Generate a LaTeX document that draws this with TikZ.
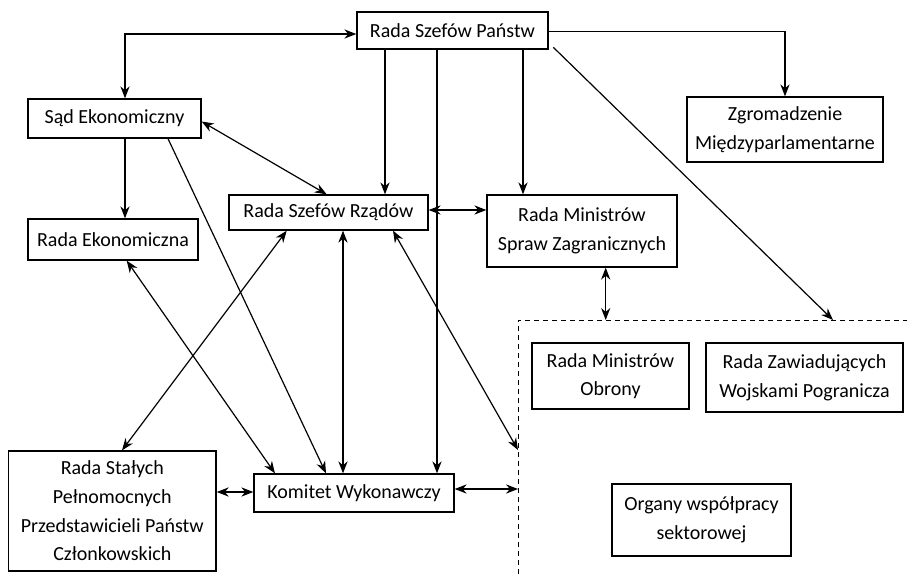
\documentclass[tikz,border=0pt]{standalone}
\usepackage{fontspec}
\setmainfont{Carlito}
\usetikzlibrary{arrows.meta}

\tikzset{
  box/.style={draw, line width=0.65pt, align=center, inner sep=0pt, font=\fontsize{10}{14.3}\selectfont},
  grpline/.style={line width=0.5pt, dash pattern=on 2.6pt off 1.9pt},
}

\begin{document}
\begin{tikzpicture}[x=0.5pt, y=-0.5pt, line width=0.6pt, >={Stealth[length=6pt,width=4.6pt]}]
\useasboundingbox (0,0) rectangle (907,574);

% organy
\node[box, minimum width=95.5pt, minimum height=18.5pt] (rsp) at (452.5,30.5) {Rada Szefów Państw};
\node[box, minimum width=86.5pt, minimum height=19.5pt] (se) at (114.5,118.5) {Sąd Ekonomiczny};
\node[box, minimum width=85pt, minimum height=20.5pt] (re) at (113,239.5) {Rada Ekonomiczna};
\node[box, minimum width=99.5pt, minimum height=17.5pt] (rsr) at (328.5,212.5) {Rada Szefów Rządów};
\node[box, minimum width=95pt, minimum height=36pt] (rmsz) at (582,231) {Rada Ministrów\\Spraw Zagranicznych};
\node[box, minimum width=98pt, minimum height=32.5pt] (zm) at (785,129.5) {Zgromadzenie\\Międzyparlamentarne};
\node[box, minimum width=103.75pt, minimum height=60pt] (rspp) at (112.3,511) {Rada Stałych\\Pełnomocnych\\Przedstawicieli Państw\\Członkowskich};
\node[box, minimum width=100pt, minimum height=19pt] (kw) at (354,493) {Komitet Wykonawczy};
\node[box, minimum width=78.5pt, minimum height=33pt] (rmo) at (610.5,376) {Rada Ministrów\\Obrony};
\node[box, minimum width=98.5pt, minimum height=34.5pt] (rzw) at (804.5,377.5) {Rada Zawiadujących\\Wojskami Pogranicza};
\node[box, minimum width=89.5pt, minimum height=36pt] (ows) at (701.5,520) {Organy współpracy\\sektorowej};

% obszar wspolpracy sektorowej
\coordinate (grp) at (518,320);
\coordinate (grpend) at (907,320);
\coordinate (grpbot) at (518,574);
\coordinate (grpin1) at (833,320);
\coordinate (grpin2) at (518,450);
\draw[grpline] (grpbot) -- (grp) -- (grpend);

% polaczenia
\draw[<->] ([yshift=-1.75pt]rsp.west) -| ([xshift=5.25pt]se.north);
\draw[->] ([xshift=-33.75pt]rsp.south) -- ([xshift=-33.75pt]rsp.south |- rsr.north);
\draw[->] ([xshift=-7.75pt]rsp.south) -- ([xshift=-7.75pt]rsp.south |- kw.north);
\draw[->] ([xshift=35.25pt]rsp.south) -- ([xshift=35.25pt]rsp.south |- rmsz.north);
\draw[->] ([yshift=-0.6pt]rsp.east) -| (zm.north);
\draw[->] ([xshift=2.35pt,yshift=1.15pt]rsp.south east) -- (grpin1);
\draw[<->] ([yshift=1.25pt]rsr.east) -- ([yshift=1.25pt]rsr.east -| rmsz.west);
\draw[<->] ([xshift=11.85pt]rmsz.south) -- ([xshift=11.85pt]rmsz.south |- grp);
\draw[<->] ([yshift=-1.5pt]se.east) -- ([xshift=-0.9pt]rsr.north);
\draw[->] ([xshift=5.25pt]se.south) -- ([xshift=5.25pt]se.south |- re.north);
\draw[->] ([xshift=26.75pt]se.south) -- ([xshift=-14pt]kw.north);
\draw[<->] ([xshift=6.85pt]re.south) -- ([xshift=-39.5pt]kw.north);
\draw[<->] ([xshift=-20.9pt]rsr.south) -- ([xshift=4.85pt]rspp.north);
\draw[<->] ([xshift=7.25pt]rsr.south) -- ([xshift=7.25pt]rsr.south |- kw.north);
\draw[<->] ([xshift=32.25pt]rsr.south) -- (grpin2);
\draw[<->] ([yshift=9.5pt]rspp.east) -- ([yshift=9.5pt]rspp.east -| kw.west);
\draw[<->] ([yshift=2pt]kw.east) -- ([yshift=2pt]kw.east -| grp);

\end{tikzpicture}
\end{document}
